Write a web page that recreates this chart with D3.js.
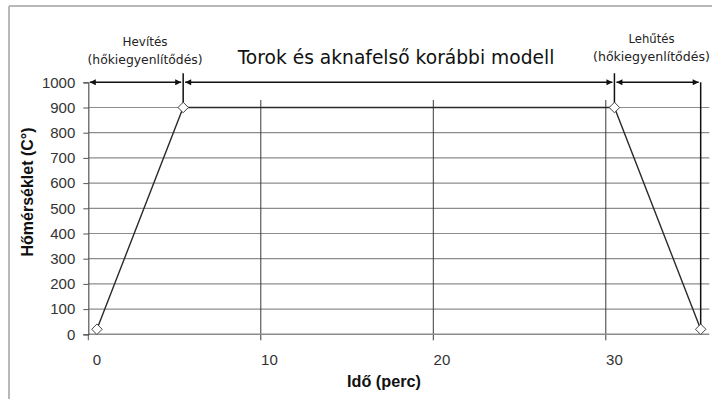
<!DOCTYPE html>
<html>
<head>
<meta charset="utf-8">
<script src="https://cdn.jsdelivr.net/npm/d3@7"></script>
<style>
  html, body { margin: 0; padding: 0; background: #fff; }
  svg { display: block; }
</style>
</head>
<body>
<svg id="chart" width="719" height="399"></svg>
<script>
// Temperature profile: heating, hold, cooling
const timeMin = [0, 5, 30, 35];
const tempC = [20, 900, 900, 20];
const yTicks = [0, 100, 200, 300, 400, 500, 600, 700, 800, 900, 1000];
const xTickLabels = [0, 10, 20, 30];
const xGridAt = [9.5, 19.5, 29.5];
const phaseBounds = [-0.5, 5, 30, 35];
const title = "Torok és aknafelső korábbi modell";
const phaseNames = [["Hevítés", "(hőkiegyenlítődés)"], ["Lehűtés", "(hőkiegyenlítődés)"]];
const xTitle = "Idő (perc)";
const yTitle = "Hőmérséklet (C°)";

const svg = d3.select("#chart");
const x = d3.scaleLinear().domain([-0.5, 35.5]).range([88.3, 709.3]);
const y = d3.scaleLinear().domain([0, 1000]).range([334.3, 82.3]);

// sets font-size so a text element spans the requested width
function fitWidth(sel, w) {
  const node = sel.node();
  const fs = parseFloat(sel.attr("font-size"));
  const cur = node.getComputedTextLength();
  if (cur > 0) sel.attr("font-size", (fs * w / cur).toFixed(2));
  return sel;
}

// outer frame (top and left edges)
svg.append("line").attr("x1", 9).attr("x2", 712).attr("y1", 6).attr("y2", 6)
  .attr("stroke", "#b8b8b8").attr("stroke-width", 2);
svg.append("line").attr("x1", 9).attr("x2", 9).attr("y1", 6).attr("y2", 399)
  .attr("stroke", "#b8b8b8").attr("stroke-width", 2);

// horizontal gridlines
svg.append("g").selectAll("line").data(yTicks.filter(d => d > 0 && d < 1000)).join("line")
  .attr("x1", x(-0.5)).attr("x2", x(35.5))
  .attr("y1", d => y(d)).attr("y2", d => y(d))
  .attr("stroke", "#8c8c8c").attr("stroke-width", 1.2);

// vertical gridlines, running past the axis as tick marks
svg.append("g").selectAll("line").data(xGridAt).join("line")
  .attr("x1", d => x(d)).attr("x2", d => x(d))
  .attr("y1", y(930)).attr("y2", y(0) + 6)
  .attr("stroke", "#3a3a3a").attr("stroke-width", 1);

// x axis line
svg.append("line").attr("x1", x(-0.5)).attr("x2", x(35.5))
  .attr("y1", y(0)).attr("y2", y(0))
  .attr("stroke", "#8c8c8c").attr("stroke-width", 1.4);
svg.append("line").attr("x1", x(-0.5)).attr("x2", x(-0.5))
  .attr("y1", y(0)).attr("y2", y(0) + 6)
  .attr("stroke", "#555").attr("stroke-width", 1);

// y axis
const yAxis = d3.axisLeft(y).tickValues(yTicks).tickFormat(d3.format("d"))
  .tickSize(5).tickPadding(8);
const gy = svg.append("g").attr("transform", `translate(${x(-0.5)},0)`).call(yAxis);
gy.select(".domain").attr("stroke", "#555").attr("stroke-width", 1.2);
gy.selectAll(".tick line").attr("stroke", "#555");
gy.selectAll(".tick text").attr("font-family", "Liberation Sans, Arial, sans-serif")
  .attr("font-size", 15).attr("fill", "#333");

// x tick labels
svg.append("g").selectAll("text").data(xTickLabels).join("text")
  .attr("x", d => x(d)).attr("y", y(0) + 31)
  .attr("text-anchor", "middle")
  .attr("font-family", "Liberation Sans, Arial, sans-serif")
  .attr("font-size", 15).attr("fill", "#333")
  .text(d => d);

// axis titles
const xt = svg.append("text").attr("x", 384).attr("y", 387)
  .attr("text-anchor", "middle")
  .attr("font-family", "Liberation Sans, Arial, sans-serif")
  .attr("font-weight", "bold").attr("font-size", 14).attr("fill", "#111")
  .text(xTitle);
fitWidth(xt, 74);
const yt = svg.append("text")
  .attr("transform", "translate(33,192) rotate(-90)")
  .attr("text-anchor", "middle")
  .attr("font-family", "Liberation Sans, Arial, sans-serif")
  .attr("font-weight", "bold").attr("font-size", 14).attr("fill", "#111")
  .text(yTitle);
fitWidth(yt, 129);

// temperature curve
const pts = timeMin.map((t, i) => [t, tempC[i]]);
svg.append("path").datum(pts)
  .attr("d", d3.line().x(d => x(d[0])).y(d => y(d[1])))
  .attr("fill", "none").attr("stroke", "#2a2a2a").attr("stroke-width", 1.4);

// phase annotations: dimension arrows at the 1000 level
const defs = svg.append("defs");
["start", "end"].forEach(k => {
  defs.append("marker").attr("id", "arr-" + k)
    .attr("viewBox", "0 0 10 10").attr("refX", k === "end" ? 10 : 0).attr("refY", 5)
    .attr("markerWidth", 9).attr("markerHeight", 6).attr("markerUnits", "userSpaceOnUse")
    .attr("orient", "auto")
    .append("path")
    .attr("d", k === "end" ? "M0,0 L10,5 L0,10 Z" : "M10,0 L0,5 L10,10 Z")
    .attr("fill", "#111");
});
const gap = 2;
d3.pairs(phaseBounds).forEach(([a, b]) => {
  svg.append("line")
    .attr("x1", x(a) + (a === -0.5 ? 1.5 : gap)).attr("x2", x(b) - gap)
    .attr("y1", y(1000)).attr("y2", y(1000))
    .attr("stroke", "#111").attr("stroke-width", 1.5)
    .attr("marker-start", "url(#arr-start)").attr("marker-end", "url(#arr-end)");
});
// phase dividers
[5, 30].forEach(t => {
  svg.append("line").attr("x1", x(t)).attr("x2", x(t))
    .attr("y1", y(1036)).attr("y2", y(900))
    .attr("stroke", "#111").attr("stroke-width", 1.5);
});
svg.append("line").attr("x1", x(35)).attr("x2", x(35))
  .attr("y1", y(1000)).attr("y2", y(20))
  .attr("stroke", "#111").attr("stroke-width", 1.5);

// point markers
svg.append("g").selectAll("path").data(pts).join("path")
  .attr("transform", d => `translate(${x(d[0])},${y(d[1])})`)
  .attr("d", d3.symbol(d3.symbolDiamond2, 70))
  .attr("fill", "#fff").attr("stroke", "#444").attr("stroke-width", 1);

// titles
const tt = svg.append("text").attr("x", 396).attr("y", 64)
  .attr("text-anchor", "middle")
  .attr("font-family", "DejaVu Sans, Verdana, sans-serif")
  .attr("font-size", 17).attr("fill", "#111")
  .text(title);
fitWidth(tt, 317);

const phaseX = [145, 651.5];
phaseNames.forEach((lines, i) => {
  const a = svg.append("text").attr("x", phaseX[i]).attr("y", 46 - (i ? 3 : 0))
    .attr("text-anchor", "middle")
    .attr("font-family", "DejaVu Sans, Verdana, sans-serif")
    .attr("font-size", 11).attr("fill", "#222").text(lines[0]);
  fitWidth(a, i ? 46 : 45);
  const b = svg.append("text").attr("x", phaseX[i]).attr("y", 64 - (i ? 3 : 0))
    .attr("text-anchor", "middle")
    .attr("font-family", "DejaVu Sans, Verdana, sans-serif")
    .attr("font-size", 11).attr("fill", "#222").text(lines[1]);
  fitWidth(b, i ? 117 : 115);
});
</script>
</body>
</html>
